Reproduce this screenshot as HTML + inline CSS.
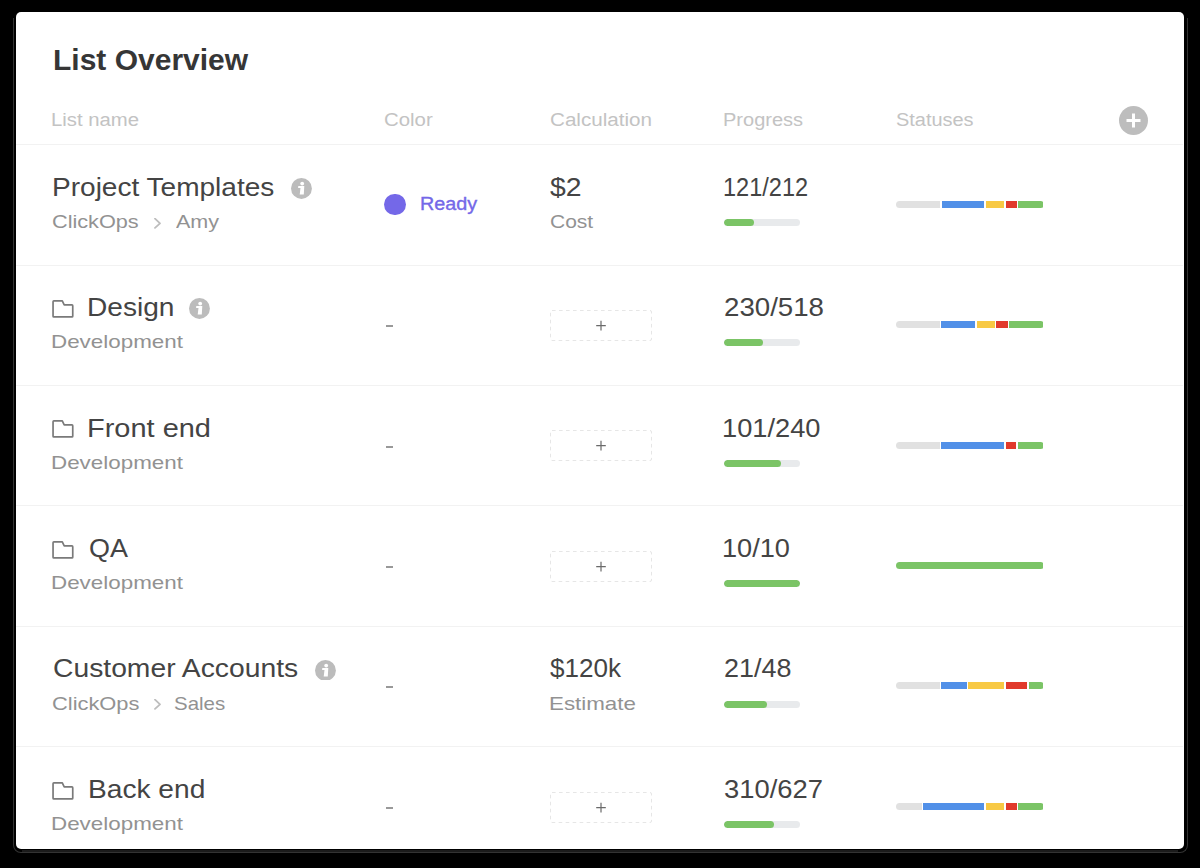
<!DOCTYPE html><html><head><meta charset="utf-8"><style>
html,body{margin:0;padding:0;background:#000;width:1200px;height:868px;overflow:hidden}
body{position:relative;font-family:"Liberation Sans",sans-serif}
.ab{position:absolute}
.t{position:absolute;white-space:nowrap;line-height:1;transform-origin:0 0}
.card{position:absolute;left:16px;top:12px;width:1168px;height:837px;background:#fff;border-radius:5px}
.line{position:absolute;left:16px;width:1167px;height:1px;background:#f2f2f2}
.sb{border-radius:3.5px;overflow:hidden;background:#fff}
.pb{border-radius:3.5px;overflow:hidden;background:#e8eaec}
.dash{position:absolute;left:550px;width:101px;height:31px;box-sizing:border-box;border:1px dashed #d9d9d9;border-radius:3px}
</style></head><body>
<div class="ab" style="left:13px;top:18px;width:1175px;height:835px;box-sizing:border-box;border:1px solid #333;border-top:none;border-radius:0 0 8px 8px"></div>
<div class="ab" style="left:22px;top:850px;width:1156px;height:2px;background:#1b1b1b"></div>
<div class="card"></div>

<div class="t" style="left:52.71px;top:45.00px;font-size:29.35px;font-weight:700;color:#363636;transform:scaleX(1.0225);">List Overview</div>
<div class="t" style="left:51.44px;top:111.00px;font-size:18.0px;font-weight:400;color:#c3c3c3;transform:scaleX(1.1280);">List name</div>
<div class="t" style="left:383.87px;top:111.00px;font-size:18.0px;font-weight:400;color:#c3c3c3;transform:scaleX(1.1333);">Color</div>
<div class="t" style="left:549.55px;top:111.00px;font-size:18.0px;font-weight:400;color:#c3c3c3;transform:scaleX(1.1460);">Calculation</div>
<div class="t" style="left:722.78px;top:111.00px;font-size:18.0px;font-weight:400;color:#c3c3c3;transform:scaleX(1.1116);">Progress</div>
<div class="t" style="left:895.89px;top:111.00px;font-size:18.0px;font-weight:400;color:#c3c3c3;transform:scaleX(1.1074);">Statuses</div>
<svg class="ab" style="left:1119px;top:106px" width="29" height="29" viewBox="0 0 29 29"><circle cx="14.5" cy="14.5" r="14.5" fill="#bdbdbd"/><rect x="7.5" y="13" width="14" height="3" fill="#fff"/><rect x="13" y="7.5" width="3" height="14" fill="#fff"/></svg>
<div class="line" style="top:144px"></div>
<div class="t" style="left:52.12px;top:175.00px;font-size:25.7px;font-weight:400;color:#444444;transform:scaleX(1.0915);">Project Templates</div>
<svg class="ab" style="left:291.05px;top:177.95px" width="20.9" height="20.9" viewBox="0 0 20.9 20.9"><circle cx="10.45" cy="10.45" r="10.45" fill="#bcbcbc"/><circle cx="11.2" cy="5.6" r="1.9" fill="#fff"/><path d="M7.3 8.1 L13.3 8.1 L12.8 16.6 L8.7 16.6 L9.5 10.1 L7.1 10.1 Z" fill="#fff"/></svg>
<div class="t" style="left:52.26px;top:212.00px;font-size:19.0px;font-weight:400;color:#929292;transform:scaleX(1.1405);">ClickOps</div>
<svg class="ab" style="left:152px;top:217.50px" width="11" height="12" viewBox="0 0 11 12"><path d="M3 0.7 L8 5.3 L3 9.9" fill="none" stroke="#bdbdbd" stroke-width="1.8" stroke-linecap="round" stroke-linejoin="round"/></svg>
<div class="t" style="left:175.70px;top:212.00px;font-size:19.0px;font-weight:400;color:#929292;transform:scaleX(1.1342);">Amy</div>
<div class="ab" style="left:384.3px;top:193.8px;width:21.5px;height:21.5px;border-radius:50%;background:#7468e8"></div>
<div class="t" style="left:420.07px;top:196.00px;font-size:17.5px;font-weight:400;color:#7468e8;transform:scaleX(1.1286);-webkit-text-stroke:0.35px #7468e8">Ready</div>
<div class="t" style="left:550.10px;top:175.00px;font-size:25.7px;font-weight:400;color:#444444;transform:scaleX(1.1038);">$2</div>
<div class="t" style="left:550.09px;top:212.00px;font-size:19.0px;font-weight:400;color:#929292;transform:scaleX(1.1053);">Cost</div>
<div class="t" style="left:722.67px;top:175.00px;font-size:25.7px;font-weight:400;color:#444444;transform:scaleX(0.9167);">121/212</div>
<div class="ab pb" style="left:724px;top:218.90px;width:75.5px;height:7px"><div class="ab" style="left:0;top:0;width:30.00px;height:7px;background:#7bc466;border-radius:3.5px"></div></div>
<div class="ab sb" style="left:896.3px;top:200.80px;width:147.7px;height:7px"><div class="ab" style="left:0.20px;top:0;width:43.70px;height:7px;background:#e1e1e1"></div><div class="ab" style="left:45.40px;top:0;width:42.50px;height:7px;background:#5190e8"></div><div class="ab" style="left:89.40px;top:0;width:18.50px;height:7px;background:#f8c944"></div><div class="ab" style="left:109.40px;top:0;width:11.10px;height:7px;background:#e13a2c"></div><div class="ab" style="left:122.00px;top:0;width:25.20px;height:7px;background:#7bc466"></div></div>
<div class="line" style="top:265px"></div>
<svg class="ab" style="left:51px;top:299.00px" width="24" height="20" viewBox="0 0 24 20"><path d="M2.05 17.15 V2.7 Q2.05 1.9 2.85 1.9 H11.3 L13.2 5.85 H20.95 Q21.75 5.85 21.75 6.65 V17.15 Q21.75 17.95 20.95 17.95 H2.85 Q2.05 17.95 2.05 17.15 Z" fill="none" stroke="#7a7a7a" stroke-width="1.7" stroke-linejoin="round"/></svg>
<div class="t" style="left:87.41px;top:295.00px;font-size:25.7px;font-weight:400;color:#444444;transform:scaleX(1.0934);">Design</div>
<svg class="ab" style="left:188.95px;top:298.35px" width="20.9" height="20.9" viewBox="0 0 20.9 20.9"><circle cx="10.45" cy="10.45" r="10.45" fill="#bcbcbc"/><circle cx="11.2" cy="5.6" r="1.9" fill="#fff"/><path d="M7.3 8.1 L13.3 8.1 L12.8 16.6 L8.7 16.6 L9.5 10.1 L7.1 10.1 Z" fill="#fff"/></svg>
<div class="t" style="left:50.64px;top:332.00px;font-size:19.0px;font-weight:400;color:#929292;transform:scaleX(1.1782);">Development</div>
<div class="ab" style="left:386px;top:325px;width:7px;height:2px;background:#999"></div>
<svg class="ab" style="left:549px;top:309px" width="104" height="34" viewBox="0 0 104 34"><rect x="1.5" y="1.5" width="101" height="30" rx="1.5" fill="none" stroke="#e6e6e6" stroke-width="1" stroke-dasharray="3.6 3.4"/><path d="M47.2 16.6 H56.8 M52 11.8 V21.4" stroke="#6a6a6a" stroke-width="1.2"/></svg>
<div class="t" style="left:723.92px;top:295.00px;font-size:25.7px;font-weight:400;color:#444444;transform:scaleX(1.0769);">230/518</div>
<div class="ab pb" style="left:724px;top:339.30px;width:75.5px;height:7px"><div class="ab" style="left:0;top:0;width:39.30px;height:7px;background:#7bc466;border-radius:3.5px"></div></div>
<div class="ab sb" style="left:896.3px;top:321.20px;width:147.7px;height:7px"><div class="ab" style="left:0.20px;top:0;width:43.20px;height:7px;background:#e1e1e1"></div><div class="ab" style="left:44.90px;top:0;width:34.00px;height:7px;background:#5190e8"></div><div class="ab" style="left:80.70px;top:0;width:17.70px;height:7px;background:#f8c944"></div><div class="ab" style="left:100.20px;top:0;width:11.30px;height:7px;background:#e13a2c"></div><div class="ab" style="left:113.20px;top:0;width:34.00px;height:7px;background:#7bc466"></div></div>
<div class="line" style="top:385px"></div>
<svg class="ab" style="left:51px;top:419.40px" width="24" height="20" viewBox="0 0 24 20"><path d="M2.05 17.15 V2.7 Q2.05 1.9 2.85 1.9 H11.3 L13.2 5.85 H20.95 Q21.75 5.85 21.75 6.65 V17.15 Q21.75 17.95 20.95 17.95 H2.85 Q2.05 17.95 2.05 17.15 Z" fill="none" stroke="#7a7a7a" stroke-width="1.7" stroke-linejoin="round"/></svg>
<div class="t" style="left:87.45px;top:416.00px;font-size:25.7px;font-weight:400;color:#444444;transform:scaleX(1.1274);">Front end</div>
<div class="t" style="left:50.64px;top:453.00px;font-size:19.0px;font-weight:400;color:#929292;transform:scaleX(1.1782);">Development</div>
<div class="ab" style="left:386px;top:446px;width:7px;height:2px;background:#999"></div>
<svg class="ab" style="left:549px;top:429px" width="104" height="34" viewBox="0 0 104 34"><rect x="1.5" y="1.5" width="101" height="30" rx="1.5" fill="none" stroke="#e6e6e6" stroke-width="1" stroke-dasharray="3.6 3.4"/><path d="M47.2 16.6 H56.8 M52 11.8 V21.4" stroke="#6a6a6a" stroke-width="1.2"/></svg>
<div class="t" style="left:722.38px;top:416.00px;font-size:25.7px;font-weight:400;color:#444444;transform:scaleX(1.0611);">101/240</div>
<div class="ab pb" style="left:724px;top:459.70px;width:75.5px;height:7px"><div class="ab" style="left:0;top:0;width:57.25px;height:7px;background:#7bc466;border-radius:3.5px"></div></div>
<div class="ab sb" style="left:896.3px;top:441.60px;width:147.7px;height:7px"><div class="ab" style="left:0.20px;top:0;width:43.20px;height:7px;background:#e1e1e1"></div><div class="ab" style="left:44.90px;top:0;width:63.00px;height:7px;background:#5190e8"></div><div class="ab" style="left:109.50px;top:0;width:10.70px;height:7px;background:#e13a2c"></div><div class="ab" style="left:121.90px;top:0;width:25.30px;height:7px;background:#7bc466"></div></div>
<div class="line" style="top:505px"></div>
<svg class="ab" style="left:51px;top:539.80px" width="24" height="20" viewBox="0 0 24 20"><path d="M2.05 17.15 V2.7 Q2.05 1.9 2.85 1.9 H11.3 L13.2 5.85 H20.95 Q21.75 5.85 21.75 6.65 V17.15 Q21.75 17.95 20.95 17.95 H2.85 Q2.05 17.95 2.05 17.15 Z" fill="none" stroke="#7a7a7a" stroke-width="1.7" stroke-linejoin="round"/></svg>
<div class="t" style="left:88.65px;top:536.00px;font-size:25.7px;font-weight:400;color:#444444;transform:scaleX(1.0500);">QA</div>
<div class="t" style="left:50.64px;top:573.00px;font-size:19.0px;font-weight:400;color:#929292;transform:scaleX(1.1782);">Development</div>
<div class="ab" style="left:386px;top:566px;width:7px;height:2px;background:#999"></div>
<svg class="ab" style="left:549px;top:550px" width="104" height="34" viewBox="0 0 104 34"><rect x="1.5" y="1.5" width="101" height="30" rx="1.5" fill="none" stroke="#e6e6e6" stroke-width="1" stroke-dasharray="3.6 3.4"/><path d="M47.2 16.6 H56.8 M52 11.8 V21.4" stroke="#6a6a6a" stroke-width="1.2"/></svg>
<div class="t" style="left:722.39px;top:536.00px;font-size:25.7px;font-weight:400;color:#444444;transform:scaleX(1.0574);">10/10</div>
<div class="ab pb" style="left:724px;top:580.10px;width:75.5px;height:7px"><div class="ab" style="left:0;top:0;width:75.50px;height:7px;background:#7bc466;border-radius:3.5px"></div></div>
<div class="ab sb" style="left:896.3px;top:562.00px;width:147.7px;height:7px"><div class="ab" style="left:0.20px;top:0;width:147.00px;height:7px;background:#7bc466"></div></div>
<div class="line" style="top:626px"></div>
<div class="t" style="left:52.65px;top:656.00px;font-size:25.7px;font-weight:400;color:#444444;transform:scaleX(1.1007);">Customer Accounts</div>
<svg class="ab" style="left:314.95px;top:659.55px" width="20.9" height="20.9" viewBox="0 0 20.9 20.9"><circle cx="10.45" cy="10.45" r="10.45" fill="#bcbcbc"/><circle cx="11.2" cy="5.6" r="1.9" fill="#fff"/><path d="M7.3 8.1 L13.3 8.1 L12.8 16.6 L8.7 16.6 L9.5 10.1 L7.1 10.1 Z" fill="#fff"/></svg>
<div class="t" style="left:52.25px;top:694.00px;font-size:19.0px;font-weight:400;color:#929292;transform:scaleX(1.1500);">ClickOps</div>
<svg class="ab" style="left:152px;top:699.10px" width="11" height="12" viewBox="0 0 11 12"><path d="M3 0.7 L8 5.3 L3 9.9" fill="none" stroke="#bdbdbd" stroke-width="1.8" stroke-linecap="round" stroke-linejoin="round"/></svg>
<div class="t" style="left:173.92px;top:694.00px;font-size:19.0px;font-weight:400;color:#929292;transform:scaleX(1.0761);">Sales</div>
<div class="ab" style="left:386px;top:686px;width:7px;height:2px;background:#999"></div>
<div class="t" style="left:549.99px;top:656.00px;font-size:25.7px;font-weight:400;color:#444444;transform:scaleX(1.0145);">$120k</div>
<div class="t" style="left:548.65px;top:694.00px;font-size:19.0px;font-weight:400;color:#929292;transform:scaleX(1.1761);">Estimate</div>
<div class="t" style="left:723.95px;top:656.00px;font-size:25.7px;font-weight:400;color:#444444;transform:scaleX(1.0484);">21/48</div>
<div class="ab pb" style="left:724px;top:700.50px;width:75.5px;height:7px"><div class="ab" style="left:0;top:0;width:42.70px;height:7px;background:#7bc466;border-radius:3.5px"></div></div>
<div class="ab sb" style="left:896.3px;top:682.40px;width:147.7px;height:7px"><div class="ab" style="left:0.20px;top:0;width:43.20px;height:7px;background:#e1e1e1"></div><div class="ab" style="left:44.90px;top:0;width:25.50px;height:7px;background:#5190e8"></div><div class="ab" style="left:71.70px;top:0;width:36.20px;height:7px;background:#f8c944"></div><div class="ab" style="left:109.50px;top:0;width:21.50px;height:7px;background:#e13a2c"></div><div class="ab" style="left:132.70px;top:0;width:14.50px;height:7px;background:#7bc466"></div></div>
<div class="line" style="top:746px"></div>
<svg class="ab" style="left:51px;top:780.60px" width="24" height="20" viewBox="0 0 24 20"><path d="M2.05 17.15 V2.7 Q2.05 1.9 2.85 1.9 H11.3 L13.2 5.85 H20.95 Q21.75 5.85 21.75 6.65 V17.15 Q21.75 17.95 20.95 17.95 H2.85 Q2.05 17.95 2.05 17.15 Z" fill="none" stroke="#7a7a7a" stroke-width="1.7" stroke-linejoin="round"/></svg>
<div class="t" style="left:87.51px;top:777.00px;font-size:25.7px;font-weight:400;color:#444444;transform:scaleX(1.0951);">Back end</div>
<div class="t" style="left:50.64px;top:814.00px;font-size:19.0px;font-weight:400;color:#929292;transform:scaleX(1.1782);">Development</div>
<div class="ab" style="left:386px;top:807px;width:7px;height:2px;background:#999"></div>
<svg class="ab" style="left:549px;top:791px" width="104" height="34" viewBox="0 0 104 34"><rect x="1.5" y="1.5" width="101" height="30" rx="1.5" fill="none" stroke="#e6e6e6" stroke-width="1" stroke-dasharray="3.6 3.4"/><path d="M47.2 16.6 H56.8 M52 11.8 V21.4" stroke="#6a6a6a" stroke-width="1.2"/></svg>
<div class="t" style="left:724.43px;top:777.00px;font-size:25.7px;font-weight:400;color:#444444;transform:scaleX(1.0659);">310/627</div>
<div class="ab pb" style="left:724px;top:820.90px;width:75.5px;height:7px"><div class="ab" style="left:0;top:0;width:49.75px;height:7px;background:#7bc466;border-radius:3.5px"></div></div>
<div class="ab sb" style="left:896.3px;top:802.80px;width:147.7px;height:7px"><div class="ab" style="left:0.20px;top:0;width:25.20px;height:7px;background:#e1e1e1"></div><div class="ab" style="left:26.90px;top:0;width:61.00px;height:7px;background:#5190e8"></div><div class="ab" style="left:89.40px;top:0;width:18.50px;height:7px;background:#f8c944"></div><div class="ab" style="left:109.50px;top:0;width:11.00px;height:7px;background:#e13a2c"></div><div class="ab" style="left:122.00px;top:0;width:25.20px;height:7px;background:#7bc466"></div></div>
</body></html>
